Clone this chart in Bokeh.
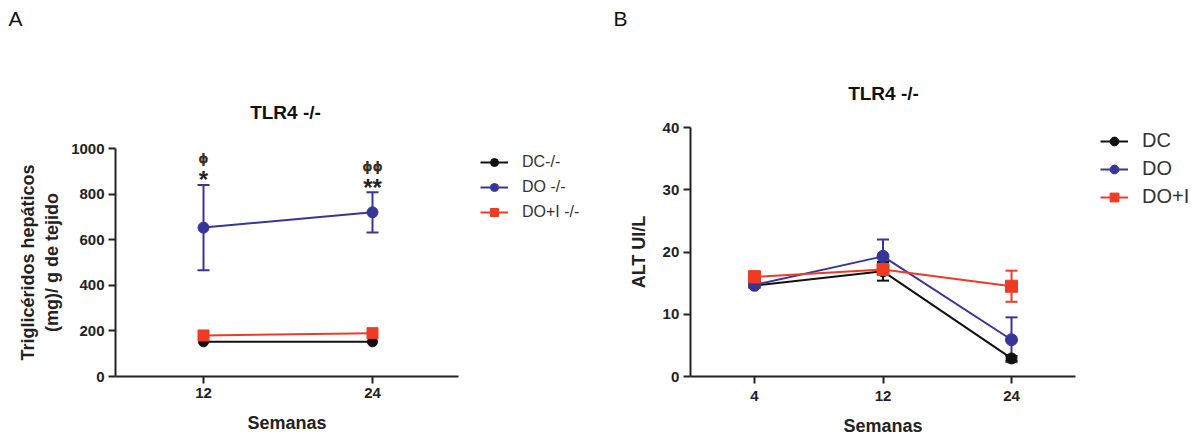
from bokeh.plotting import figure
from bokeh.models import (ColumnDataSource, Whisker, TeeHead, Legend, LegendItem,
                          Label, FixedTicker, Range1d, LinearAxis)
from bokeh.layouts import row
from bokeh.embed import file_html
from bokeh.resources import INLINE
from bokeh.core.properties import value

# ---------------- data ----------------
weeks_a = [12, 24]
dc_a = [152, 152]
do_a = [653, 720]
do_a_err = [187, 88]
doi_a = [180, 190]
stars_a = ["*", "**"]
phis_a = ["ϕ", "ϕϕ"]
legend_a = ["DC-/-", "DO -/-", "DO+I -/-"]

weeks_b = ["4", "12", "24"]
dc_b = [14.6, 16.9, 2.9]
dc_b_err = [0.3, 1.5, 0.4]
do_b = [14.7, 19.3, 5.9]
do_b_err = [0.4, 2.7, 3.6]
doi_b = [16.0, 17.2, 14.5]
doi_b_err = [0.9, 0.6, 2.5]
legend_b = ["DC", "DO", "DO+I"]

yticks_a = [0, 200, 400, 600, 800, 1000]
yticks_b = [0, 10, 20, 30, 40]

BLACK = "#111111"
BLUE = "#36369a"
RED = "#ee3b24"
FONT = "Liberation Sans"
TXT = "#222222"
H = 434


def make_fig(width, xr, yr):
    p = figure(width=width, height=H, x_range=Range1d(*xr), y_range=Range1d(*yr),
               output_backend="svg", toolbar_location=None, min_border=0,
               x_axis_location=None, y_axis_location=None)
    p.grid.visible = False
    p.outline_line_color = None
    return p


def add_axes(p, xloc, xbounds, xticks, yloc, ybounds, yticks, ylabel,
             overrides=None, xlab_standoff=10, xtick_standoff=4, ylab_standoff=8):
    xa = LinearAxis(fixed_location=xloc, bounds=xbounds,
                    ticker=FixedTicker(ticks=xticks), axis_label="Semanas")
    ya = LinearAxis(fixed_location=yloc, bounds=ybounds,
                    ticker=FixedTicker(ticks=yticks), axis_label=ylabel)
    if overrides:
        xa.major_label_overrides = overrides
    for ax in (xa, ya):
        ax.axis_line_width = 2
        ax.axis_line_color = TXT
        ax.major_tick_line_width = 2
        ax.major_tick_line_color = TXT
        ax.major_tick_out = 7
        ax.major_tick_in = 0
        ax.minor_tick_line_color = None
        ax.major_label_text_font = FONT
        ax.major_label_text_font_style = "bold"
        ax.major_label_text_font_size = "15px"
        ax.major_label_text_color = TXT
        ax.axis_label_text_font = FONT
        ax.axis_label_text_font_style = "bold"
        ax.axis_label_text_color = TXT
        ax.axis_label_text_font_size = "18px"
    ya.major_label_standoff = 4
    xa.major_label_standoff = xtick_standoff
    xa.axis_label_standoff = xlab_standoff
    ya.axis_label_standoff = ylab_standoff
    p.add_layout(xa, "below")
    p.add_layout(ya, "left")
    return xa, ya


def series(p, x, y, err, color, marker, size):
    src = ColumnDataSource(dict(x=x, y=y,
                                up=[a + b for a, b in zip(y, err)] if err else y,
                                lo=[a - b for a, b in zip(y, err)] if err else y))
    if err:
        w = Whisker(source=src, base="x", upper="up", lower="lo",
                    line_color=color, line_width=2,
                    upper_head=TeeHead(size=12, line_color=color, line_width=2),
                    lower_head=TeeHead(size=12, line_color=color, line_width=2))
        p.add_layout(w)
    ln = p.line("x", "y", source=src, line_color=color, line_width=2)
    sc = p.scatter("x", "y", source=src, marker=marker, size=size,
                   fill_color=color, line_color=color)
    return [ln, sc]


def legend(p, names, rends, loc, pitch_h, font_size):
    leg = Legend(items=[LegendItem(label=n, renderers=r) for n, r in zip(names, rends)],
                 location=loc, padding=0, spacing=5, margin=0,
                 glyph_width=28, glyph_height=pitch_h, label_height=pitch_h,
                 label_standoff=14, label_text_font=FONT,
                 label_text_font_size=font_size, label_text_color="#333333",
                 border_line_alpha=0, background_fill_alpha=0)
    p.add_layout(leg)


def label(p, x, y, text, size, bold):
    p.add_layout(Label(x=x, y=H - y, x_units="screen", y_units="screen", text=text,
                       text_align="center", text_baseline="middle",
                       text_font=FONT, text_font_size=size,
                       text_font_style="bold" if bold else "normal",
                       text_color="#111111"))


# ---------------- panel A ----------------
# pixel geometry: week 12 -> x 203, week 24 -> x 372 ; y 0 -> 376, y 1000 -> 148
pxa = (372 - 203) / 12.0
pya = (376 - 148) / 1000.0
pA = make_fig(606, (12 - 203 / pxa, 24 + (606 - 372) / pxa),
              (-(H - 376) / pya, 1000 + 148 / pya))
ax_left_a = 12 - (203 - 115) / pxa
ax_right_a = 24 + (458 - 372) / pxa
add_axes(pA, 0, (ax_left_a, ax_right_a), weeks_a,
         ax_left_a, (0, 1000), yticks_a, "Triglicéridos hepáticos\n(mg)/ g de tejido",
         xlab_standoff=12, xtick_standoff=4, ylab_standoff=6)

rA1 = series(pA, weeks_a, dc_a, None, BLACK, "circle", 10)
rA2 = series(pA, weeks_a, do_a, do_a_err, BLUE, "circle", 11)
rA3 = series(pA, weeks_a, doi_a, None, RED, "square", 11)

ann = ColumnDataSource(dict(x=weeks_a,
                            top=[a + b for a, b in zip(do_a, do_a_err)],
                            s=stars_a, f=phis_a))
pA.text("x", "top", text="s", source=ann, text_font=value(FONT),
        text_font_style="bold", text_font_size="24px", text_color=TXT,
        text_align="center", text_baseline="middle", y_offset=-5)
pA.text("x", "top", text="f", source=ann, text_font=value("DejaVu Sans"),
        text_font_style="bold", text_font_size="13px", text_color="#3a2e22",
        text_align="center", text_baseline="middle", y_offset=-26)

legend(pA, legend_a, [rA1, rA2, rA3], (480, 212), 20, "16px")
label(pA, 15, 18, "A", "21px", False)
label(pA, 285, 112, "TLR4 -/-", "19px", True)

# ---------------- panel B ----------------
X0 = 606
pxb = (1011 - 754) / 2.0
pyb = (376 - 127) / 40.0
idx_b = list(range(len(weeks_b)))
pB = make_fig(597, (-(754 - X0) / pxb, 2 + (X0 + 597 - 1011) / pxb),
              (-(H - 376) / pyb, 40 + 127 / pyb))
add_axes(pB, 0, (-0.5, len(weeks_b) - 0.5), idx_b,
         -0.5, (0, 40), yticks_b, "ALT UI/L",
         overrides={i: w for i, w in zip(idx_b, weeks_b)},
         xlab_standoff=12, xtick_standoff=7, ylab_standoff=11)

rB1 = series(pB, idx_b, dc_b, dc_b_err, BLACK, "circle", 11)
rB2 = series(pB, idx_b, do_b, do_b_err, BLUE, "circle", 12)
rB3 = series(pB, idx_b, doi_b, doi_b_err, RED, "square", 12)

legend(pB, legend_b, [rB1, rB2, rB3], (1100 - X0, 226), 22, "20px")
label(pB, 620 - X0, 18, "B", "21px", False)
label(pB, 883 - X0, 93, "TLR4 -/-", "19px", True)

layout = row(pA, pB)
open("out.html", "w").write(file_html(layout, INLINE))
